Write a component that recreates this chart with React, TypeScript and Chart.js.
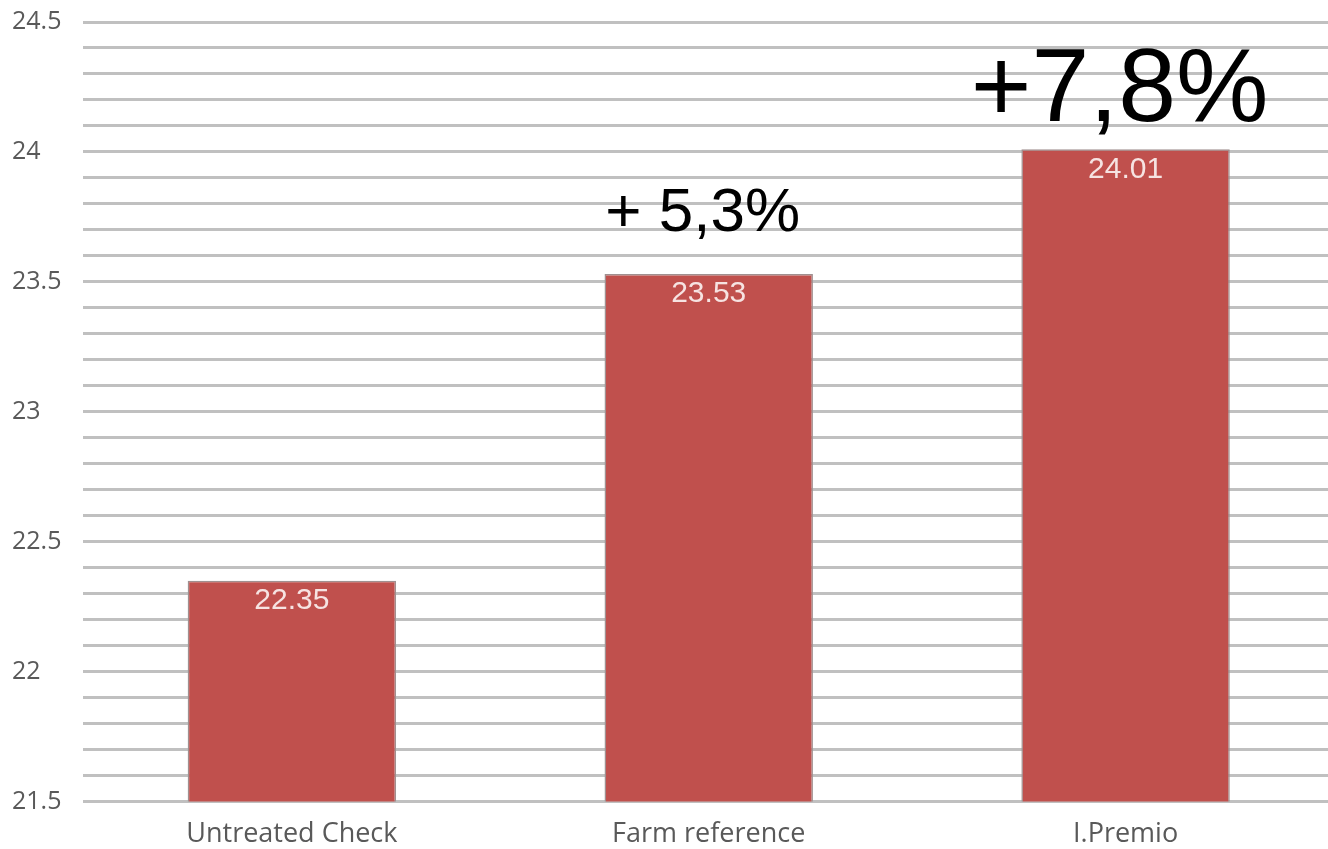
import React, { useEffect, useRef } from "react";
import { Chart, registerables } from "chart.js";

Chart.register(...registerables);

const categories = ["Untreated Check", "Farm reference", "I.Premio"];
const values = [22.35, 23.53, 24.01];
const valueLabels = ["22.35", "23.53", "24.01"];
const annotations = ["", "+ 5,3%", "+7,8%"];
const annotationSizes = [0, 62, 104];
const yMin = 21.5;
const yMax = 24.5;
const yStep = 0.1;

const labelPlugin = {
  id: "barLabels",
  afterDatasetsDraw(chart: any) {
    const { ctx } = chart;
    const meta = chart.getDatasetMeta(0);
    meta.data.forEach((bar: any, i: number) => {
      ctx.save();
      ctx.fillStyle = "#f6e3e2";
      ctx.font = "30px 'Liberation Sans', Arial, sans-serif";
      ctx.textAlign = "center";
      ctx.textBaseline = "middle";
      ctx.fillText(valueLabels[i], bar.x, bar.y + 20);
      if (annotations[i]) {
        ctx.fillStyle = "#000000";
        ctx.font = `${annotationSizes[i]}px 'Liberation Sans', Arial, sans-serif`;
        ctx.textBaseline = "alphabetic";
        const off = annotationSizes[i] > 80 ? 28 : 43;
        ctx.fillText(annotations[i], bar.x - 6, bar.y - off);
      }
      ctx.restore();
    });
  },
};

export default function App() {
  const ref = useRef<HTMLCanvasElement>(null);
  useEffect(() => {
    if (!ref.current) return;
    const chart = new Chart(ref.current, {
      type: "bar",
      data: {
        labels: categories,
        datasets: [
          {
            data: values,
            backgroundColor: "#c0504d",
            borderColor: "#a09090",
            borderWidth: 1.5,
            categoryPercentage: 1,
            barPercentage: 0.5,
          },
        ],
      },
      options: {
        animation: false,
        responsive: false,
        maintainAspectRatio: false,
        layout: { padding: { top: -6, left: 12, right: 0, bottom: -11 } },
        plugins: { legend: { display: false }, tooltip: { enabled: false } },
        scales: {
          x: {
            grid: { display: false },
            border: { display: false },
            ticks: {
              color: "#595959",
              font: { family: "'Open Sans', sans-serif", size: 27 },
              padding: 9,
            },
          },
          y: {
            min: yMin,
            max: yMax,
            border: { display: false },
            grid: { color: "#c0c0c0", lineWidth: 3, drawTicks: false },
            ticks: {
              stepSize: yStep,
              autoSkip: false,
              crossAlign: "far",
              padding: 11,
              color: "#595959",
              font: { family: "'Open Sans', sans-serif", size: 25 },
              callback: (v: any) => {
                const t = Math.round(Number(v) * 10);
                return t % 5 === 0 ? String(t / 10) : "";
              },
            },
          },
        },
      },
      plugins: [labelPlugin],
    });
    return () => chart.destroy();
  }, []);
  return (
    <div style={{ position: "fixed", left: 0, top: 0, width: 1328, height: 849, overflow: "hidden", background: "#fff" }}>
      <canvas
        ref={ref}
        width={1334}
        height={853}
        style={{ display: "block", position: "absolute", left: 0, top: -4, width: 1334, height: 853 }}
      />
    </div>
  );
}
